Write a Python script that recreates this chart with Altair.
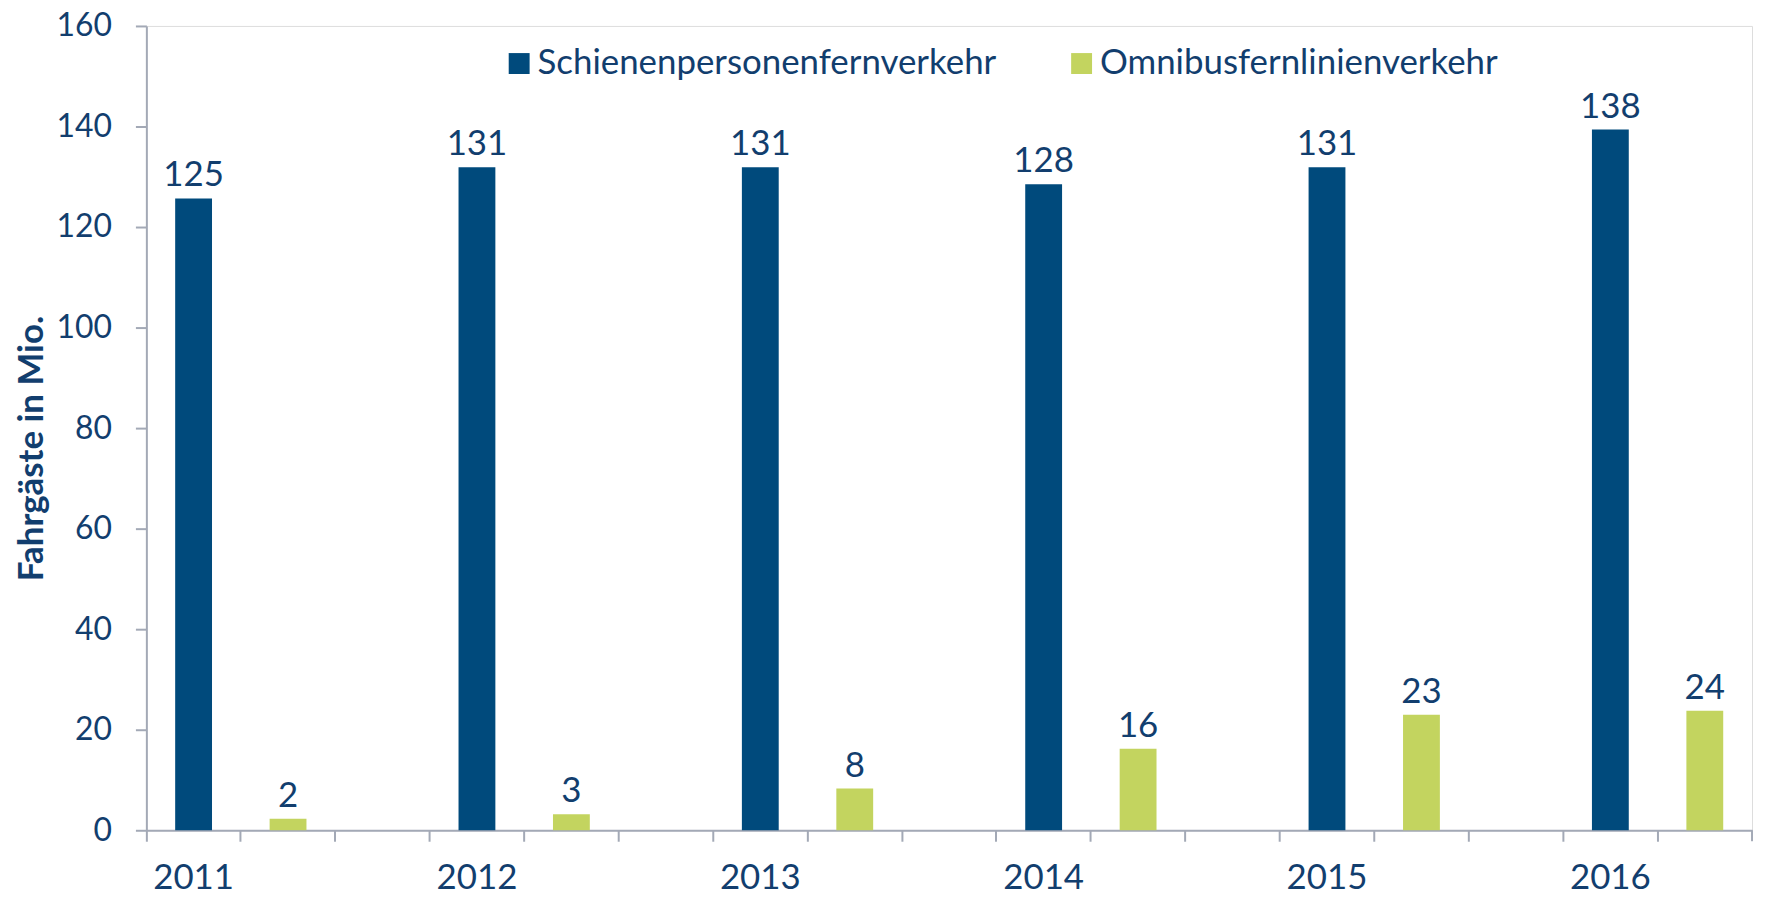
import altair as alt
import pandas as pd

years = ["2011", "2012", "2013", "2014", "2015", "2016"]
series = ["Schienenpersonenfernverkehr", "Omnibusfernlinienverkehr"]
rail_values = [125.7, 131.9, 131.9, 128.5, 131.9, 139.4]
bus_values = [2.3, 3.2, 8.3, 16.2, 23.0, 23.8]
rail_labels = ["125", "131", "131", "128", "131", "138"]
bus_labels = ["2", "3", "8", "16", "23", "24"]

BLUE = "#004A7C"
GREEN = "#C3D45F"
TEXT = "#123E6E"
GRAY = "#A3A9B6"
FONT = "Lato"

# category slots: each year has three slots (rail, bus, empty); last empty slot omitted
slots = []
for i, y in enumerate(years):
    slots.append(y)
    slots.append(y + "_1")
    if i < len(years) - 1:
        slots.append(y + "_2")

rows = []
for i, y in enumerate(years):
    rows.append({"slot": y, "series": series[0], "value": rail_values[i], "label": rail_labels[i]})
    rows.append({"slot": y + "_1", "series": series[1], "value": bus_values[i], "label": bus_labels[i]})
df = pd.DataFrame(rows)

W, H = 1613, 808

x_enc = alt.X(
    "slot:N",
    scale=alt.Scale(domain=slots, paddingInner=0, paddingOuter=0),
    axis=alt.Axis(
        title=None,
        bandPosition=0,
        labelExpr="indexof(datum.value, '_') < 0 ? datum.value : ''",
        labelAngle=0,
        labelOverlap=False,
        labelFontSize=35,
        labelFont=FONT,
        labelColor=TEXT,
        labelPadding=19,
        tickSize=11,
        tickColor=GRAY,
        tickWidth=2,
        domainColor=GRAY,
        domainWidth=2,
    ),
)

y_enc = alt.Y(
    "value:Q",
    scale=alt.Scale(domain=[0, 160], nice=False),
    axis=alt.Axis(
        title="Fahrgäste in Mio.",
        values=[0, 20, 40, 60, 80, 100, 120, 140, 160],
        grid=False,
        labelFontSize=32,
        labelFont=FONT,
        labelColor=TEXT,
        labelPadding=24,
        tickSize=11,
        tickColor=GRAY,
        tickWidth=2,
        domainColor=GRAY,
        domainWidth=2,
        titleFont=FONT,
        titleFontSize=35,
        titleFontWeight="bold",
        titleColor=TEXT,
        titleX=-104,
        titleY=424,
        titleAlign="center",
        titleBaseline="alphabetic",
        titleAngle=270,
    ),
)

bars = alt.Chart(df).mark_bar(width=alt.RelativeBandSize(0.39)).encode(
    x=x_enc,
    y=y_enc,
    color=alt.Color(
        "series:N",
        scale=alt.Scale(domain=series, range=[BLUE, GREEN]),
        legend=alt.Legend(
            title=None,
            orient="none",
            direction="horizontal",
            legendX=357,
            legendY=20,
            symbolType="square",
            symbolSize=441,
            symbolStrokeWidth=0,
            symbolOpacity=1,
            labelFont=FONT,
            labelFontSize=35,
            labelColor=TEXT,
            labelOffset=1,
            labelLimit=1000,
            columnPadding=68,
        ),
    ),
)

labels = alt.Chart(df).mark_text(
    dy=-12, baseline="alphabetic", fontSize=35, font=FONT, color=TEXT
).encode(
    x=alt.X("slot:N", scale=alt.Scale(domain=slots, paddingInner=0, paddingOuter=0)),
    y=alt.Y("value:Q"),
    text="label:N",
)

end_tick = alt.Chart(pd.DataFrame({"k": [0]})).mark_rule(color=GRAY, strokeWidth=2).encode(
    x=alt.value(W), y=alt.value(H), y2=alt.value(H + 11)
)

chart = (
    alt.layer(bars, labels, end_tick)
    .properties(
        width=W,
        height=H,
        autosize=alt.AutoSizeParams(type="none"),
        padding={"left": 139, "top": 16, "right": 7, "bottom": 65},
    )
    .configure_view(stroke=GRAY, strokeWidth=2)
    .configure(background="white")
)

chart.save("out.html", embed_options={"renderer": "svg", "actions": False})
